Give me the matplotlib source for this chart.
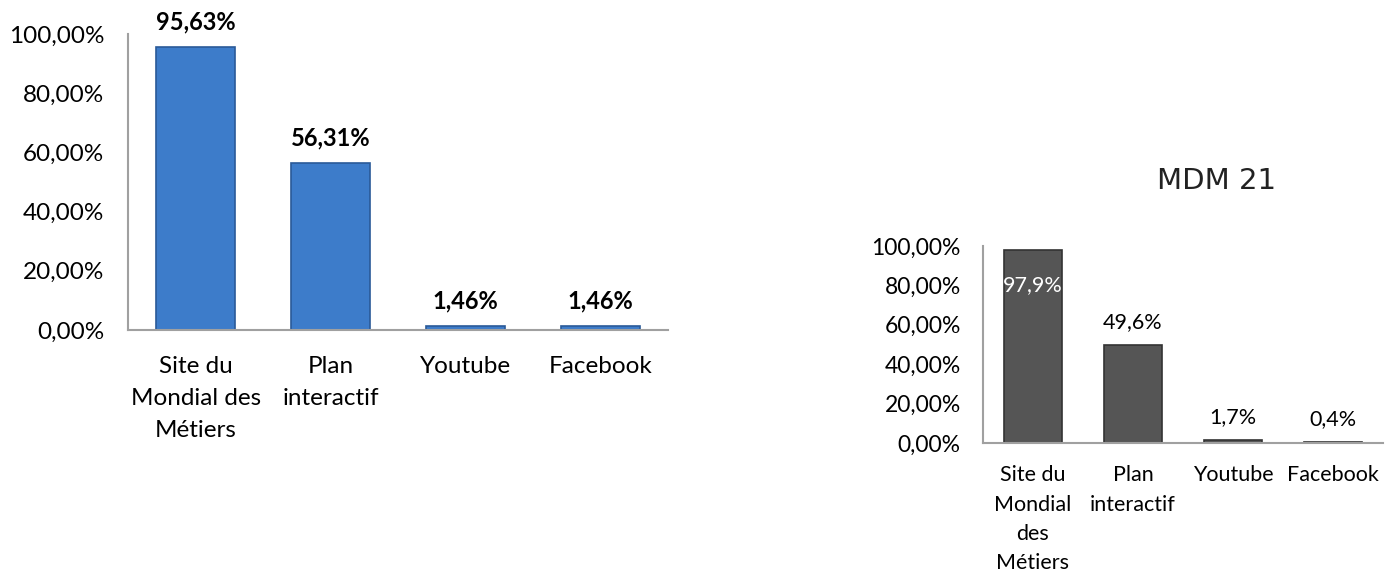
import numpy as np
import matplotlib.pyplot as plt

categories_left = ["Site du\nMondial des\nMétiers", "Plan\ninteractif", "Youtube", "Facebook"]
values_left = [95.63, 56.31, 1.46, 1.46]
labels_left = ["95,63%", "56,31%", "1,46%", "1,46%"]

categories_right = ["Site du\nMondial\ndes\nMétiers", "Plan\ninteractif", "Youtube", "Facebook"]
values_right = [97.9, 49.6, 1.7, 0.4]
labels_right = ["97,9%", "49,6%", "1,7%", "0,4%"]

yticks = [0, 20, 40, 60, 80, 100]
ytick_labels = ["0,00%", "20,00%", "40,00%", "60,00%", "80,00%", "100,00%"]

plt.rcParams['font.family'] = ['Lato', 'DejaVu Sans']

fig = plt.figure(figsize=(13.86, 5.72), dpi=100)


def style_axes(ax, fs, ypad, xpad):
    for s in ['top', 'right']:
        ax.spines[s].set_visible(False)
    for s in ['left', 'bottom']:
        ax.spines[s].set_color('#a0a0a0')
        ax.spines[s].set_linewidth(1.5)
    ax.set_ylim(0, 100)
    ax.set_yticks(yticks)
    ax.set_yticklabels(ytick_labels, fontsize=fs)
    ax.tick_params(axis='both', length=0)
    ax.tick_params(axis='y', pad=ypad)
    ax.tick_params(axis='x', pad=xpad)


# left chart
ax1 = fig.add_axes([0.0924, 0.423, 0.3896, 0.5175])
x = np.arange(len(values_left))
ax1.bar(x, values_left, width=0.58, color='#3d7cca', edgecolor='#2a5a98', linewidth=1.2)
ax1.set_xlim(-0.5, len(values_left) - 0.5)
style_axes(ax1, 17.5, 17, 19)
ax1.set_xticks(x)
ax1.set_xticklabels(categories_left, fontsize=17.5, linespacing=1.63, va='top')
for xi, v, lab in zip(x, values_left, labels_left):
    ax1.annotate(lab, (xi, v), xytext=(0, 18), textcoords='offset points',
                 ha='center', va='center', fontsize=17, fontweight='bold', color='black')

# right chart
ax2 = fig.add_axes([0.7092, 0.2255, 0.2886, 0.3444])
x = np.arange(len(values_right))
ax2.bar(x, values_right, width=0.58, color='#555555', edgecolor='#333333', linewidth=1.2)
ax2.set_xlim(-0.5, len(values_right) - 0.5)
style_axes(ax2, 16.5, 16, 16)
ax2.set_xticks(x)
ax2.set_xticklabels(categories_right, fontsize=15.5, linespacing=1.58, va='top')
for i, (xi, v, lab) in enumerate(zip(x, values_right, labels_right)):
    if i == 0:
        ax2.annotate(lab, (xi, v), xytext=(0, -25), textcoords='offset points',
                     ha='center', va='center', fontsize=15.5, color='white')
    else:
        ax2.annotate(lab, (xi, v), xytext=(0, 16.5), textcoords='offset points',
                     ha='center', va='center', fontsize=15.5, color='black')

fig.text(0.878, 0.683, "MDM 21", ha='center', va='center', fontsize=21,
         color='#222222', family='DejaVu Sans')

fig.savefig("out.png", dpi=100)
